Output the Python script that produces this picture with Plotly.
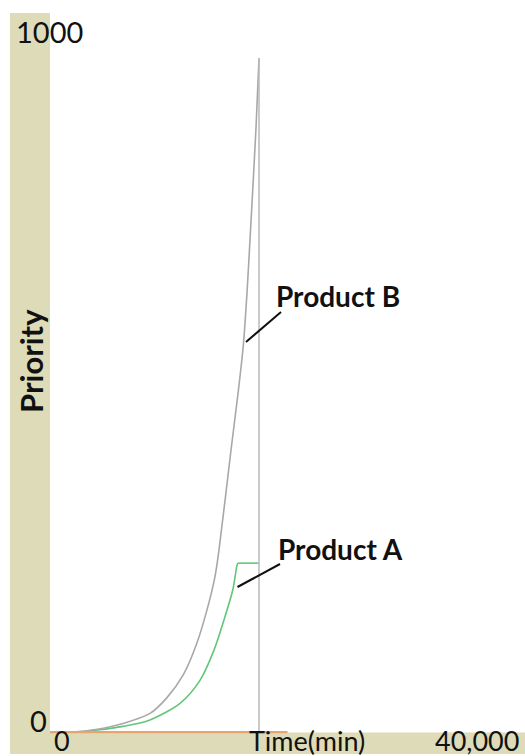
import plotly.graph_objects as go

# Priority over time for two products (time in minutes)
b_time = [0, 1940, 4000, 6150, 8420, 9850, 11230, 12350, 13220, 13890, 14230,
          15240, 15870, 16280, 16590, 16840, 17350, 17600]
b_priority = [0, 0, 4, 12, 26, 48, 80, 123, 170, 216, 253,
              392, 476, 538, 611, 684, 841, 937]

a_time = [0, 1940, 4000, 6150, 8420, 10950, 12630, 13810, 14650, 15410, 15750, 15830]
a_priority = [0, 0, 3, 8, 17, 40, 72, 114, 156, 199, 232, 235]

# time at which the priorities reset to zero
reset_time = 17600

base_time = [0, 20000]
base_priority = [0, 0]

x_max = 40000
y_max = 1000

W, H = 525, 756
L, R, T, B = 50, 0, 13, 21
PW, PH = W - L - R, H - T - B


def px(x):
    return (x - L) / PW


def py(y):
    return (H - B - y) / PH


green = "#62c677"
grey = "#a8a8a8"

fig = go.Figure()
# Product A: rising curve, then held at its cap until the reset
fig.add_trace(go.Scatter(x=a_time, y=a_priority, mode="lines",
                         line=dict(color=green, width=1.6, shape="spline", smoothing=0.8),
                         hoverinfo="skip"))
fig.add_trace(go.Scatter(x=[a_time[-1], reset_time], y=[a_priority[-1], a_priority[-1]],
                         mode="lines", line=dict(color=green, width=1.6), hoverinfo="skip"))
# Product B: rising curve, then reset
fig.add_trace(go.Scatter(x=b_time, y=b_priority, mode="lines",
                         line=dict(color=grey, width=1.6, shape="spline", smoothing=0.8),
                         hoverinfo="skip"))
fig.add_trace(go.Scatter(x=[b_time[-1], reset_time], y=[b_priority[-1], 0], mode="lines",
                         line=dict(color="#b8b8b8", width=1.5), hoverinfo="skip"))
fig.add_trace(go.Scatter(x=base_time, y=base_priority, mode="lines",
                         line=dict(color="#e9a46e", width=2.4), hoverinfo="skip"))

beige = "#dedcb8"
shapes = [
    dict(type="rect", xref="paper", yref="paper", x0=px(10), x1=px(L), y0=py(754), y1=py(13),
         fillcolor=beige, line=dict(width=0), layer="below"),
    dict(type="rect", xref="paper", yref="paper", x0=px(10), x1=1.0, y0=py(754), y1=py(732.5),
         fillcolor=beige, line=dict(width=0), layer="below"),
    # leader lines for the series labels
    dict(type="line", xref="paper", yref="paper", x0=px(281), y0=py(312), x1=px(246), y1=py(342),
         line=dict(color="#111111", width=2)),
    dict(type="line", xref="paper", yref="paper", x0=px(280), y0=py(564), x1=px(237.5), y1=py(587),
         line=dict(color="#111111", width=2)),
]

reg = dict(family="Lato", size=29, color="#111111")
reg_low = dict(family="Lato", size=27, color="#111111")
bold = dict(family="Lato", size=28, color="#111111", weight="bold")
bold_axis = dict(family="Lato", size=31, color="#111111", weight="bold")


def label(text, x, y, font, xanchor="center", angle=0):
    return dict(text=text, xref="paper", yref="paper", x=px(x), y=py(y), showarrow=False,
                xanchor=xanchor, yanchor="middle", font=font, textangle=angle)


annotations = [
    label("1000", 14, 32, reg, xanchor="left"),
    label("0", 38, 720, reg),
    label("0", 62, 740, reg_low),
    label("Time(min)", 307, 740, reg_low),
    label("40,000", 521, 740, reg_low, xanchor="right"),
    label("Priority", 31, 361, bold_axis, angle=-90),
    label("Product B", 274, 296, bold, xanchor="left"),
    label("Product A", 276, 549, bold, xanchor="left"),
]

fig.update_layout(
    width=W, height=H,
    margin=dict(l=L, r=R, t=T, b=B, pad=0),
    paper_bgcolor="white", plot_bgcolor="white",
    showlegend=False,
    shapes=shapes,
    annotations=annotations,
    xaxis=dict(range=[0, x_max], showticklabels=False, showgrid=False, zeroline=False,
               showline=False, ticks=""),
    yaxis=dict(range=[-4, y_max], showticklabels=False, showgrid=False, zeroline=False,
               showline=False, ticks=""),
)

fig.write_html("out.html")
